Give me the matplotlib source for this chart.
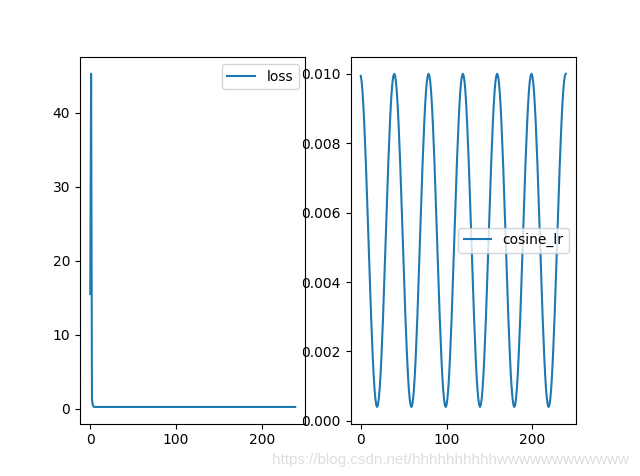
import matplotlib
matplotlib.use("Agg")
import matplotlib.pyplot as plt

# loss: sharp spike at the start, then flat
loss_steps = [0, 1, 2, 3, 4, 5, 239]
loss_values = [15.5, 45.3, 1.2, 0.45, 0.26, 0.22, 0.22]

# cosine lr, one value per step (0..239)
cosine_lr = [
    0.00994, 0.00977, 0.00948, 0.00908, 0.00859, 0.00802, 0.00738, 0.00668, 0.00595, 0.00520,
    0.00445, 0.00372, 0.00302, 0.00238, 0.00181, 0.00132, 0.00092, 0.00064, 0.00046, 0.00040,
    0.00046, 0.00064, 0.00092, 0.00132, 0.00181, 0.00238, 0.00302, 0.00372, 0.00445, 0.00520,
    0.00595, 0.00668, 0.00738, 0.00802, 0.00859, 0.00908, 0.00948, 0.00977, 0.00994, 0.01000,
    0.00994, 0.00977, 0.00948, 0.00908, 0.00859, 0.00802, 0.00738, 0.00668, 0.00595, 0.00520,
    0.00445, 0.00372, 0.00302, 0.00238, 0.00181, 0.00132, 0.00092, 0.00064, 0.00046, 0.00040,
    0.00046, 0.00064, 0.00092, 0.00132, 0.00181, 0.00238, 0.00302, 0.00372, 0.00445, 0.00520,
    0.00595, 0.00668, 0.00738, 0.00802, 0.00859, 0.00908, 0.00948, 0.00977, 0.00994, 0.01000,
    0.00994, 0.00977, 0.00948, 0.00908, 0.00859, 0.00802, 0.00738, 0.00668, 0.00595, 0.00520,
    0.00445, 0.00372, 0.00302, 0.00238, 0.00181, 0.00132, 0.00092, 0.00064, 0.00046, 0.00040,
    0.00046, 0.00064, 0.00092, 0.00132, 0.00181, 0.00238, 0.00302, 0.00372, 0.00445, 0.00520,
    0.00595, 0.00668, 0.00738, 0.00802, 0.00859, 0.00908, 0.00948, 0.00977, 0.00994, 0.01000,
    0.00994, 0.00977, 0.00948, 0.00908, 0.00859, 0.00802, 0.00738, 0.00668, 0.00595, 0.00520,
    0.00445, 0.00372, 0.00302, 0.00238, 0.00181, 0.00132, 0.00092, 0.00064, 0.00046, 0.00040,
    0.00046, 0.00064, 0.00092, 0.00132, 0.00181, 0.00238, 0.00302, 0.00372, 0.00445, 0.00520,
    0.00595, 0.00668, 0.00738, 0.00802, 0.00859, 0.00908, 0.00948, 0.00977, 0.00994, 0.01000,
    0.00994, 0.00977, 0.00948, 0.00908, 0.00859, 0.00802, 0.00738, 0.00668, 0.00595, 0.00520,
    0.00445, 0.00372, 0.00302, 0.00238, 0.00181, 0.00132, 0.00092, 0.00064, 0.00046, 0.00040,
    0.00046, 0.00064, 0.00092, 0.00132, 0.00181, 0.00238, 0.00302, 0.00372, 0.00445, 0.00520,
    0.00595, 0.00668, 0.00738, 0.00802, 0.00859, 0.00908, 0.00948, 0.00977, 0.00994, 0.01000,
    0.00994, 0.00977, 0.00948, 0.00908, 0.00859, 0.00802, 0.00738, 0.00668, 0.00595, 0.00520,
    0.00445, 0.00372, 0.00302, 0.00238, 0.00181, 0.00132, 0.00092, 0.00064, 0.00046, 0.00040,
    0.00046, 0.00064, 0.00092, 0.00132, 0.00181, 0.00238, 0.00302, 0.00372, 0.00445, 0.00520,
    0.00595, 0.00668, 0.00738, 0.00802, 0.00859, 0.00908, 0.00948, 0.00977, 0.00994, 0.01000,
]
lr_steps = list(range(len(cosine_lr)))

fig = plt.figure(figsize=(6.4, 4.76), dpi=100)

ax1 = fig.add_subplot(1, 2, 1)
ax1.plot(loss_steps, loss_values, label="loss")
ax1.legend()

ax2 = fig.add_subplot(1, 2, 2)
ax2.plot(lr_steps, cosine_lr, label="cosine_lr")
ax2.legend()

# csdn watermark
fig.text(0.983, 0.018, "https://blog.csdn.net/hhhhhhhhhhwwwwwwwwwwww",
         ha="right", va="bottom", fontsize=11, color="#dedede",
         family=["Liberation Sans", "DejaVu Sans"])

fig.savefig("out.png")
